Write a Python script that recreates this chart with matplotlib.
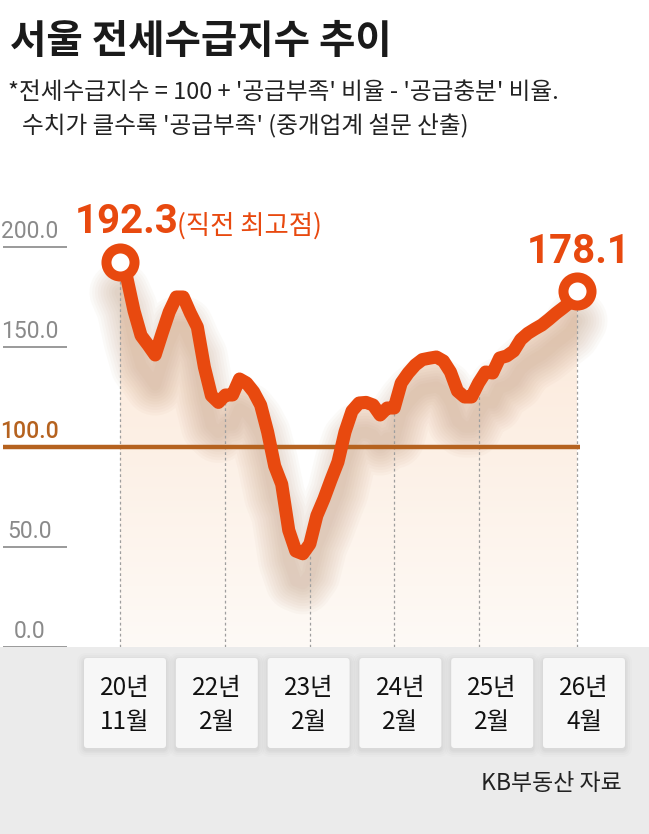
import matplotlib
matplotlib.use('Agg')
import matplotlib.pyplot as plt
import numpy as np
from matplotlib.patches import FancyBboxPatch, Rectangle, Polygon

plt.rcParams['font.family'] = ['Noto Sans CJK KR', 'DejaVu Sans']
NUM_FONT = ['Roboto', 'DejaVu Sans']

# months counted from 2020-11 (0) to 2026-04 (65)
months = np.arange(66)
index_values = [
    192.3, 184.2, 168.0, 155.7, 151.0, 146.0, 157.0, 167.5, 175.0, 175.0,
    167.0, 160.0, 140.0, 125.7, 122.3, 126.0, 126.0, 134.0, 132.0, 127.6,
    121.0, 107.5, 90.5, 81.4, 58.4, 48.0, 46.6, 51.5, 65.7, 74.0,
    83.5, 92.5, 107.5, 118.0, 122.0, 122.3, 121.0, 116.0, 119.5, 119.5,
    132.0, 137.0, 141.0, 143.7, 144.4, 145.0, 143.0, 137.5, 128.0, 125.0,
    125.0, 132.0, 137.5, 137.0, 144.5, 145.5, 148.0, 153.7, 156.8, 159.0,
    161.0, 163.8, 166.8, 169.5, 172.3, 178.1,
]
tick_months = [0, 15, 27, 39, 51, 65]
tick_labels = ['20년\n11월', '22년\n2월', '23년\n2월', '24년\n2월', '25년\n2월', '26년\n4월']
y_ticks = [0, 50, 100, 150, 200]
y_labels = ['0.0', '50.0', '100.0', '150.0', '200.0']

title = '서울 전세수급지수 추이'
note1 = "*전세수급지수 = 100 + '공급부족' 비율 - '공급충분' 비율."
note2 = "수치가 클수록 '공급부족' (중개업계 설문 산출)"
peak_note = '(직전 최고점)'
source = 'KB부동산 자료'

ORANGE = '#E8490F'
BROWN = '#B5621F'
GRAY = '#8A8A8A'

W, H = 649, 834
fig = plt.figure(figsize=(W / 100, H / 100), dpi=100)
fig.patch.set_facecolor('white')

# background layer, pixel coordinates
bg = fig.add_axes([0, 0, 1, 1], zorder=0)
bg.set_xlim(0, W)
bg.set_ylim(H, 0)
bg.axis('off')
bg.add_patch(Rectangle((0, 647), W, H - 647, color='#EBEBEB', lw=0))

# main chart axes
ppm = 457 / 65
x0 = -120 / ppm
ax = fig.add_axes([0, 1 - 647 / H, 1, 460 / H], zorder=1)
ax.axis('off')

vals = np.array(index_values)

# gradient fill under the line
poly = Polygon(np.column_stack([np.r_[months, months[-1], months[0]],
                                np.r_[vals, 0, 0]]),
               closed=True, transform=ax.transData, fc='none', ec='none')
ax.add_patch(poly)
g = np.linspace(0, 1, 256)[:, None, None]
c_bot = np.array([254, 250, 246]) / 255
c_top = np.array([251, 230, 213]) / 255
img = c_bot + (c_top - c_bot) * g
im = ax.imshow(img, extent=[months[0], months[-1], 0, 200], origin='lower',
               aspect='auto', zorder=1, interpolation='bilinear')
im.set_clip_path(poly)

# soft shadow, blurred by stacking wide faint strokes
for lw in np.linspace(44, 8, 10):
    ax.plot(months, vals - 15, color='#B08260', lw=lw, alpha=0.04,
            solid_joinstyle='round', solid_capstyle='round', zorder=2)

ax.set_xlim(x0, x0 + W / ppm)
ax.set_ylim(0, 230)

# reference lines
ax.vlines(tick_months, 0, vals[tick_months], colors='#9E9E9E',
          linestyles=(0, (2.2, 2.2)), lw=0.9, zorder=3)
yt = ax.get_yaxis_transform()
for v, lab in zip(y_ticks, y_labels):
    if v == 100:
        ax.plot([3 / W, 580 / W], [v, v], transform=yt, color=BROWN, lw=3.2,
                solid_capstyle='butt', zorder=3.5)
        col, wt = BROWN, 'medium'
    else:
        ax.plot([3 / W, 67 / W], [v, v], transform=yt, color='#9A9A9A', lw=1.4,
                solid_capstyle='butt', zorder=3.5)
        col, wt = GRAY, 'normal'
    ax.annotate(lab, xy=(30 / W, v), xycoords=yt, xytext=(0, 9),
                textcoords='offset pixels', ha='center', va='baseline',
                fontsize=16.5, family=NUM_FONT, fontweight=wt, color=col)

# main line
ax.plot(months, vals, color=ORANGE, lw=9.4, solid_joinstyle='round',
        solid_capstyle='round', zorder=4)
ax.plot(months[[0, -1]], vals[[0, -1]], 'o', ms=20.2, mew=7.2, mfc='white',
        mec=ORANGE, zorder=5)

ax.annotate(f'{vals[0]:.1f}', xy=(months[0], vals[0]), xytext=(-45, 29),
            textcoords='offset pixels', ha='left', va='baseline', fontsize=29,
            fontweight='bold', family=NUM_FONT, color=ORANGE, zorder=6)
ax.annotate(peak_note, xy=(months[0], vals[0]), xytext=(57, 29),
            textcoords='offset pixels', ha='left', va='baseline', fontsize=19,
            fontweight='medium', color=ORANGE, zorder=6)
ax.annotate(f'{vals[-1]:.1f}', xy=(months[-1], vals[-1]), xytext=(2, 28),
            textcoords='offset pixels', ha='center', va='baseline', fontsize=29,
            fontweight='bold', family=NUM_FONT, color=ORANGE, zorder=6)

# header texts
bg.text(10, 53, title, fontsize=28.5, fontweight='bold', color='#1A1A1A', va='baseline')
bg.text(8, 99, note1, fontsize=17, color='#222222', va='baseline')
bg.text(22, 133, note2, fontsize=17, color='#222222', va='baseline')

# date boxes
bw, bh, btop = 82, 90, 658
for i, lab in enumerate(tick_labels):
    bx = 84 + i * 91.8
    for pad, a in [(7, 0.025), (5, 0.035), (3, 0.045), (1.5, 0.05)]:
        bg.add_patch(FancyBboxPatch((bx - pad, btop - pad + 2), bw + 2 * pad, bh + 2 * pad,
                                    boxstyle=f'round,pad=0,rounding_size={3 + pad}',
                                    fc='#777777', ec='none', alpha=a))
    bg.add_patch(FancyBboxPatch((bx, btop), bw, bh,
                                boxstyle='round,pad=0,rounding_size=3',
                                fc='#F7F7F7', ec='none'))
    l1, l2 = lab.split('\n')
    bg.text(bx + bw / 2, 695, l1, fontsize=17.5, color='#111111', ha='center', va='baseline')
    bg.text(bx + bw / 2, 729, l2, fontsize=17.5, color='#111111', ha='center', va='baseline')

bg.text(622, 790, source, fontsize=16.5, color='#222222', ha='right', va='baseline')

fig.savefig('out.png', dpi=100)
